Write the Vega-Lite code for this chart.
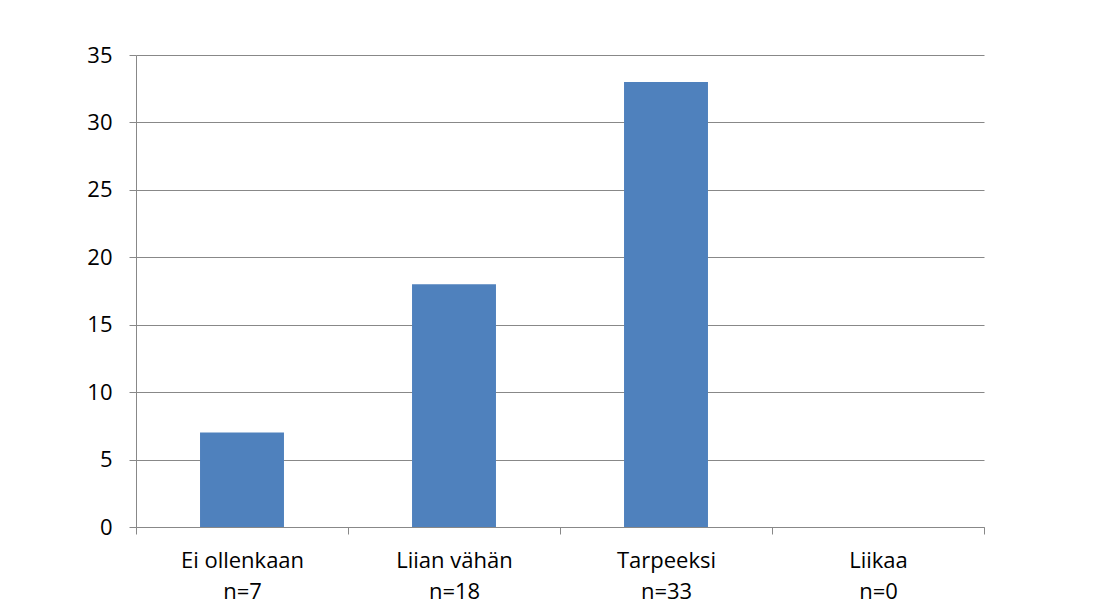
{
  "$schema": "https://vega.github.io/schema/vega-lite/v6.json",
  "width": 848,
  "height": 472,
  "autosize": "none",
  "padding": {"left": 136, "top": 55, "right": 119, "bottom": 83},
  "background": "white",
  "data": {
    "values": [
      {"category": "Ei ollenkaan|n=7", "value": 7},
      {"category": "Liian vähän|n=18", "value": 18},
      {"category": "Tarpeeksi|n=33", "value": 33},
      {"category": "Liikaa|n=0", "value": 0}
    ]
  },
  "mark": {"type": "bar", "color": "#4F81BD", "width": {"band": 0.396}},
  "encoding": {
    "x": {
      "field": "category",
      "type": "nominal",
      "sort": null,
      "scale": {"paddingInner": 0, "paddingOuter": 0},
      "axis": {
        "title": null,
        "labelAngle": 0,
        "labelExpr": "split(datum.label, '|')",
        "labelFont": "Open Sans",
        "labelFontSize": 22,
        "labelColor": "#000000",
        "labelLineHeight": 31,
        "labelPadding": 16,
        "tickBand": "extent",
        "tickSize": 7,
        "tickColor": "#888888",
        "domainColor": "#888888",
        "grid": false
      }
    },
    "y": {
      "field": "value",
      "type": "quantitative",
      "scale": {"domain": [0, 35], "nice": false},
      "axis": {
        "title": null,
        "values": [0, 5, 10, 15, 20, 25, 30, 35],
        "labelFont": "Open Sans",
        "labelFontSize": 22,
        "labelColor": "#000000",
        "labelPadding": 17,
        "tickSize": 7,
        "tickColor": "#888888",
        "domainColor": "#888888",
        "grid": true,
        "gridColor": "#888888",
        "gridWidth": 1
      }
    }
  },
  "config": {"view": {"stroke": null}}
}
